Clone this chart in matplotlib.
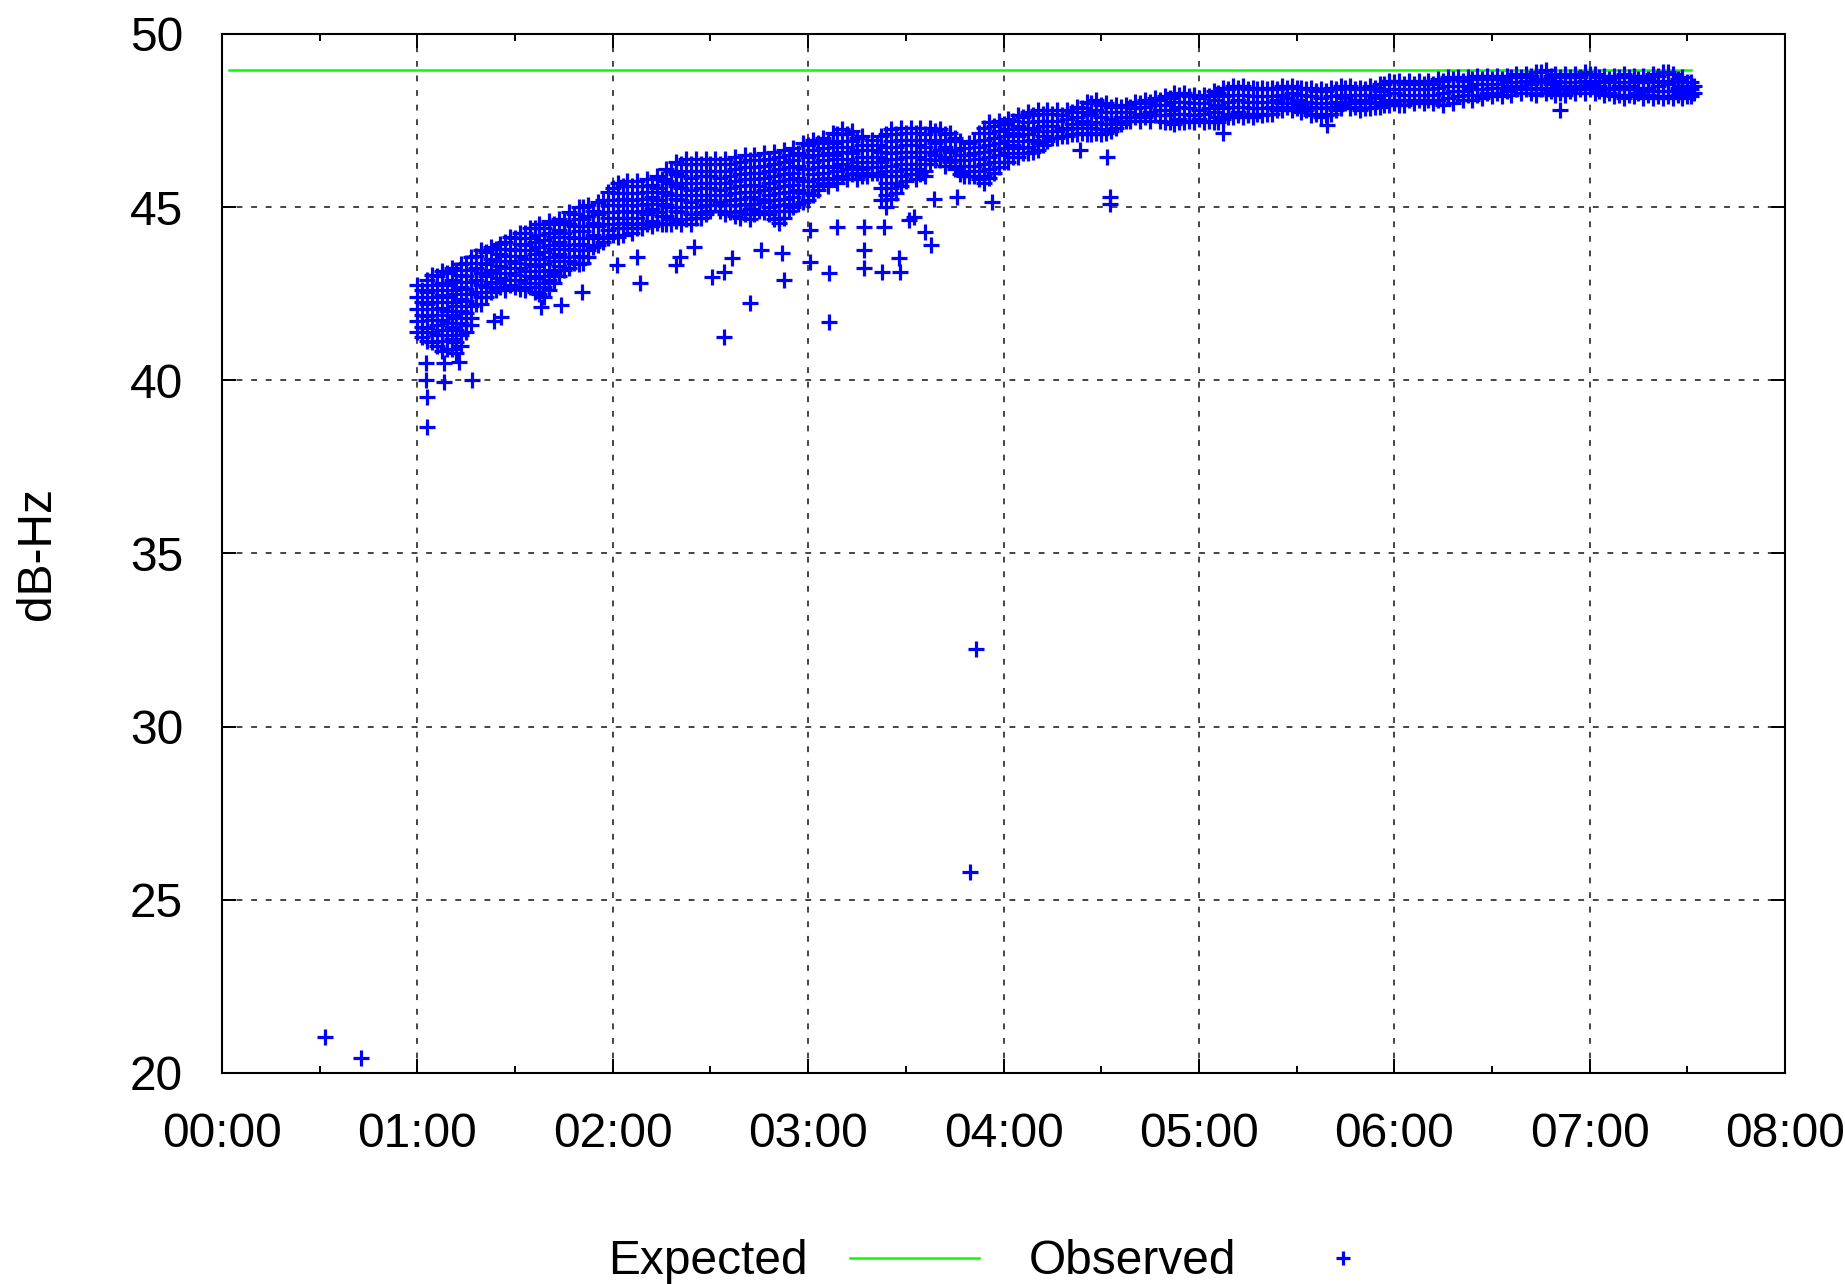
import matplotlib
matplotlib.use('Agg')
from matplotlib import pyplot as plt

# 期望值（绿色水平线）
expected_minutes = [2, 451]
expected_db = [48.95, 48.95]

# 观测值：按 3 分钟一列，从图上逐列读出
band_minutes = [60, 63, 66, 69, 72, 75, 78, 81, 84, 87, 90, 93, 96, 99, 102, 105, 108, 111, 114, 117,
                120, 123, 126, 129, 132, 135, 138, 141, 144, 147, 150, 153, 156, 159, 162, 165, 168, 171,
                174, 177, 180, 183, 186, 189, 192, 195, 198, 201, 204, 207, 210, 213, 216, 219, 222, 225,
                228, 231, 234, 237, 240, 243, 246, 249, 252, 255, 258, 261, 264, 267, 270, 273, 276, 279,
                282, 285, 288, 291, 294, 297, 300, 303, 306, 309, 312, 315, 318, 321, 324, 327, 330, 333,
                336, 339, 342, 345, 348, 351, 354, 357, 360, 363, 366, 369, 372, 375, 378, 381, 384, 387,
                390, 393, 396, 399, 402, 405, 408, 411, 414, 417, 420, 423, 426, 429, 432, 435, 438, 441,
                444, 447, 450, 452]
band_db = [
    [42.75, 42.4, 42.05, 41.7, 41.4],
    [42.9, 42.55, 42.2, 41.85, 41.5, 41.15],
    [43.0, 42.6, 42.25, 41.9, 41.6, 41.3, 41.0],
    [43.1, 42.75, 42.4, 42.0, 41.65, 41.3, 40.9],
    [43.2, 42.85, 42.5, 42.15, 41.8, 41.45, 41.1, 40.8],
    [43.4, 43.0, 42.65, 42.3, 41.95, 41.6, 41.4],
    [43.6, 43.25, 42.9, 42.55, 42.2],
    [43.7, 43.35, 43.0, 42.7, 42.4],
    [43.8, 43.45, 43.1, 42.8, 42.6],
    [44.0, 43.6, 43.25, 42.9, 42.6],
    [44.1, 43.75, 43.4, 43.05, 42.7],
    [44.25, 43.9, 43.5, 43.15, 42.8, 42.6],
    [44.4, 44.0, 43.65, 43.3, 42.95, 42.55],
    [44.4, 44.05, 43.7, 43.35, 43.0, 42.7, 42.4],
    [44.5, 44.15, 43.8, 43.45, 43.1, 42.8],
    [44.6, 44.25, 43.9, 43.55, 43.2],
    [44.8, 44.45, 44.1, 43.75, 43.4],
    [45.0, 44.65, 44.3, 43.9, 43.55, 43.4],
    [44.9, 44.55, 44.2, 43.85],
    [45.2, 44.85, 44.5, 44.15, 44.0],
    [45.55, 45.2, 44.85, 44.5, 44.2],
    [45.6, 45.25, 44.9, 44.55, 44.2],
    [45.6, 45.2, 44.85, 44.5, 44.25],
    [45.6, 45.25, 44.9, 44.55, 44.4],
    [45.65, 45.3, 44.95, 44.6, 44.45],
    [45.8, 45.45, 45.1, 44.75, 44.5],
    [46.05, 45.7, 45.35, 45.0, 44.65, 44.5],
    [46.25, 45.9, 45.55, 45.2, 44.85, 44.5],
    [46.25, 45.85, 45.5, 45.15, 44.8, 44.5],
    [46.25, 45.9, 45.55, 45.2, 44.85, 44.7],
    [46.25, 45.9, 45.55, 45.2, 44.9],
    [46.25, 45.85, 45.5, 45.15, 44.9],
    [46.25, 45.9, 45.55, 45.2, 44.85],
    [46.3, 45.95, 45.6, 45.25, 44.9, 44.7],
    [46.35, 46.0, 45.65, 45.3, 44.95, 44.65],
    [46.35, 46.0, 45.6, 45.25, 44.9],
    [46.4, 46.05, 45.7, 45.35, 45.0, 44.8],
    [46.45, 46.1, 45.75, 45.4, 45.05, 44.7, 44.55],
    [46.5, 46.15, 45.8, 45.45, 45.1, 44.9],
    [46.55, 46.2, 45.85, 45.5, 45.1],
    [46.8, 46.45, 46.1, 45.75, 45.4, 45.2],
    [46.85, 46.5, 46.15, 45.8, 45.5],
    [46.9, 46.55, 46.2, 45.85, 45.6],
    [47.1, 46.75, 46.4, 46.05, 45.7],
    [47.1, 46.75, 46.4, 46.1, 45.8],
    [47.0, 46.65, 46.3, 46.0, 45.8],
    [46.8, 46.45, 46.15, 45.9],
    [46.8, 46.45, 46.15, 46.0],
    [47.1, 46.75, 46.4, 46.05, 45.7, 45.35, 45.0],
    [47.1, 46.75, 46.4, 46.05, 45.7, 45.4],
    [47.15, 46.8, 46.45, 46.1, 45.75],
    [47.15, 46.8, 46.45, 46.1, 45.8],
    [47.1, 46.75, 46.4, 46.05, 45.9],
    [47.2, 46.85, 46.5, 46.35],
    [47.1, 46.75, 46.45, 46.2],
    [47.0, 46.65, 46.35, 46.1],
    [46.7, 46.35, 46.05, 45.9],
    [46.9, 46.55, 46.2, 45.9],
    [47.3, 46.95, 46.6, 46.25, 45.9, 45.7],
    [47.35, 47.0, 46.65, 46.3, 46.0],
    [47.4, 47.05, 46.7, 46.3],
    [47.5, 47.15, 46.8, 46.45],
    [47.6, 47.25, 46.9, 46.55],
    [47.65, 47.3, 46.95, 46.6],
    [47.7, 47.35, 47.05, 46.8],
    [47.7, 47.35, 47.0],
    [47.65, 47.3, 47.05],
    [47.75, 47.4, 47.1],
    [47.85, 47.5, 47.15],
    [48.0, 47.65, 47.3, 47.1],
    [47.95, 47.6, 47.25, 47.1],
    [47.9, 47.55, 47.2],
    [47.9, 47.6, 47.4],
    [47.9, 47.6, 47.5],
    [48.0, 47.7, 47.5],
    [48.05, 47.75, 47.5],
    [48.1, 47.8, 47.5],
    [48.15, 47.8, 47.45],
    [48.25, 47.9, 47.55, 47.45],
    [48.2, 47.85, 47.5],
    [48.15, 47.8, 47.55],
    [48.2, 47.85, 47.5],
    [48.3, 47.95, 47.6, 47.45],
    [48.4, 48.05, 47.7, 47.6],
    [48.45, 48.1, 47.75, 47.65],
    [48.4, 48.05, 47.7, 47.65],
    [48.4, 48.05, 47.7],
    [48.4, 48.05, 47.7],
    [48.4, 48.1, 47.8],
    [48.45, 48.15, 47.9],
    [48.45, 48.1, 47.85],
    [48.4, 48.05, 47.8],
    [48.35, 48.0, 47.7],
    [48.35, 48.0, 47.65],
    [48.4, 48.05, 47.8],
    [48.45, 48.15, 48.0],
    [48.4, 48.1, 47.9],
    [48.4, 48.1, 47.85],
    [48.45, 48.15, 47.9],
    [48.55, 48.25, 47.95],
    [48.6, 48.3, 48.0],
    [48.55, 48.25, 47.95],
    [48.55, 48.25, 48.0],
    [48.55, 48.25, 48.0],
    [48.55, 48.25, 48.0],
    [48.65, 48.3, 47.95],
    [48.7, 48.35, 48.0],
    [48.65, 48.35, 48.1],
    [48.7, 48.4, 48.1],
    [48.7, 48.4, 48.15],
    [48.7, 48.45, 48.2],
    [48.7, 48.45, 48.2],
    [48.75, 48.5, 48.25],
    [48.75, 48.5, 48.3],
    [48.8, 48.55, 48.3],
    [48.9, 48.6, 48.4],
    [48.8, 48.55, 48.35],
    [48.75, 48.5, 48.3],
    [48.75, 48.5, 48.35],
    [48.75, 48.5, 48.4],
    [48.85, 48.55, 48.4],
    [48.75, 48.5, 48.35],
    [48.7, 48.45, 48.3],
    [48.75, 48.5, 48.25],
    [48.75, 48.5, 48.25],
    [48.7, 48.45, 48.3],
    [48.7, 48.45, 48.25],
    [48.8, 48.5, 48.2],
    [48.9, 48.55, 48.2],
    [48.7, 48.45, 48.25],
    [48.6, 48.35, 48.2],
    [48.5, 48.3],
]

# 观测值：第二遍，落在上面各列之间的点
mid_minutes = [61.5, 64.5, 67.5, 70.5, 73.5, 76.5, 79.5, 82.5, 85.5, 88.5, 91.5, 94.5, 97.5, 100.5,
               103.5, 106.5, 109.5, 112.5, 115.5, 118.5, 121.5, 124.5, 127.5, 130.5, 133.5, 136.5,
               139.5, 142.5, 145.5, 148.5, 151.5, 154.5, 157.5, 160.5, 163.5, 166.5, 169.5, 172.5,
               175.5, 178.5, 181.5, 184.5, 187.5, 190.5, 193.5, 196.5, 199.5, 202.5, 205.5, 208.5,
               211.5, 214.5, 217.5, 220.5, 223.5, 226.5, 229.5, 232.5, 235.5, 238.5, 241.5, 244.5,
               247.5, 250.5, 253.5, 256.5, 259.5, 262.5, 265.5, 268.5, 271.5, 274.5, 277.5, 280.5,
               283.5, 286.5, 289.5, 292.5, 295.5, 298.5, 301.5, 304.5, 307.5, 310.5, 313.5, 316.5,
               319.5, 322.5, 325.5, 328.5, 331.5, 334.5, 337.5, 340.5, 343.5, 346.5, 349.5, 352.5,
               355.5, 358.5, 361.5, 364.5, 367.5, 370.5, 373.5, 376.5, 379.5, 382.5, 385.5, 388.5,
               391.5, 394.5, 397.5, 400.5, 403.5, 406.5, 409.5, 412.5, 415.5, 418.5, 421.5, 424.5,
               427.5, 430.5, 433.5, 436.5, 439.5, 442.5, 445.5, 448.5, 451]
mid_db = [
    [42.6, 42.25, 41.9, 41.55, 41.25],
    [43.05, 42.75, 42.4, 42.05, 41.75, 41.4, 41.1],
    [43.15, 42.8, 42.45, 42.1, 41.75, 41.45, 41.15, 40.85],
    [43.25, 42.9, 42.6, 42.25, 41.9, 41.55, 41.2, 40.9],
    [43.35, 43.05, 42.7, 42.35, 42.0, 41.65, 41.3, 41.0],
    [43.55, 43.2, 42.85, 42.5, 42.15, 41.8, 41.6],
    [43.75, 43.4, 43.1, 42.75, 42.4, 42.2],
    [43.85, 43.5, 43.2, 42.85, 42.55],
    [43.95, 43.65, 43.3, 42.95, 42.7],
    [44.15, 43.8, 43.45, 43.1, 42.75],
    [44.25, 43.95, 43.6, 43.25, 42.9, 42.65],
    [44.4, 44.1, 43.75, 43.35, 43.0, 42.7],
    [44.5, 44.2, 43.85, 43.5, 43.15, 42.8, 42.5],
    [44.6, 44.25, 43.9, 43.55, 43.2, 42.9, 42.6],
    [44.65, 44.35, 44.0, 43.65, 43.3, 43.0],
    [44.85, 44.5, 44.15, 43.8, 43.45, 43.25],
    [45.0, 44.65, 44.3, 43.95, 43.6, 43.35],
    [45.05, 44.75, 44.45, 44.1, 43.75, 43.55],
    [45.15, 44.8, 44.45, 44.1, 43.9],
    [45.45, 45.05, 44.7, 44.35, 44.1],
    [45.7, 45.4, 45.05, 44.7, 44.4, 44.15],
    [45.75, 45.4, 45.05, 44.7, 44.4],
    [45.75, 45.4, 45.05, 44.7, 44.4],
    [45.8, 45.45, 45.1, 44.8, 44.5],
    [45.9, 45.55, 45.2, 44.85, 44.55],
    [46.1, 45.75, 45.4, 45.05, 44.75, 44.5],
    [46.3, 45.95, 45.6, 45.25, 44.9, 44.6],
    [46.4, 46.05, 45.7, 45.35, 45.0, 44.65],
    [46.4, 46.05, 45.7, 45.35, 45.0, 44.7],
    [46.4, 46.05, 45.7, 45.35, 45.05, 44.8],
    [46.4, 46.05, 45.7, 45.35, 45.05],
    [46.4, 46.05, 45.7, 45.35, 45.05, 44.8],
    [46.45, 46.1, 45.75, 45.4, 45.05, 44.75],
    [46.5, 46.15, 45.8, 45.45, 45.1, 44.8],
    [46.5, 46.15, 45.8, 45.45, 45.1, 44.8],
    [46.55, 46.2, 45.85, 45.5, 45.15, 44.85],
    [46.6, 46.25, 45.9, 45.55, 45.2, 44.9, 44.65],
    [46.65, 46.3, 45.95, 45.6, 45.25, 44.9, 44.7],
    [46.7, 46.35, 46.0, 45.65, 45.3, 45.0],
    [46.85, 46.5, 46.1, 45.75, 45.4, 45.15],
    [46.95, 46.65, 46.3, 45.95, 45.6, 45.35],
    [47.0, 46.7, 46.35, 46.0, 45.7],
    [47.15, 46.85, 46.5, 46.15, 45.8],
    [47.25, 46.9, 46.6, 46.25, 45.9],
    [47.2, 46.9, 46.55, 46.2, 45.95],
    [47.05, 46.8, 46.45, 46.1, 45.9],
    [46.95, 46.65, 46.3, 46.0],
    [47.05, 46.6, 46.3, 45.9, 45.55, 45.2],
    [47.25, 46.9, 46.55, 46.2, 45.9, 45.55, 45.25],
    [47.3, 46.95, 46.6, 46.25, 45.9, 45.6],
    [47.3, 46.95, 46.6, 46.25, 45.95],
    [47.3, 46.95, 46.6, 46.25, 45.95],
    [47.3, 46.95, 46.6, 46.25],
    [47.25, 46.95, 46.65, 46.35],
    [47.15, 46.9, 46.6, 46.3],
    [46.9, 46.5, 46.2, 45.95],
    [46.85, 46.5, 46.2, 45.9],
    [47.15, 46.75, 46.4, 46.05, 45.8],
    [47.45, 47.15, 46.8, 46.45, 46.1, 45.85],
    [47.5, 47.2, 46.85, 46.5, 46.15],
    [47.55, 47.25, 46.9, 46.55, 46.3],
    [47.65, 47.35, 47.05, 46.7, 46.45],
    [47.75, 47.45, 47.1, 46.75, 46.55],
    [47.8, 47.5, 47.2, 46.85, 46.65],
    [47.8, 47.5, 47.2, 46.9],
    [47.8, 47.5, 47.2, 47.0],
    [47.8, 47.55, 47.25, 47.05],
    [47.9, 47.6, 47.3, 47.1],
    [48.05, 47.75, 47.4, 47.1],
    [48.1, 47.8, 47.45, 47.15],
    [48.0, 47.75, 47.4, 47.15],
    [47.95, 47.75, 47.45, 47.3],
    [47.95, 47.75, 47.5],
    [48.05, 47.85, 47.6],
    [48.1, 47.9, 47.6],
    [48.15, 47.95, 47.65],
    [48.2, 47.95, 47.65, 47.45],
    [48.3, 48.05, 47.7, 47.4],
    [48.3, 48.05, 47.7, 47.45],
    [48.25, 48.0, 47.65, 47.45],
    [48.25, 48.0, 47.7, 47.45],
    [48.35, 48.1, 47.75, 47.45],
    [48.45, 48.2, 47.85, 47.55],
    [48.5, 48.25, 47.9, 47.6],
    [48.5, 48.25, 47.9, 47.6],
    [48.45, 48.2, 47.85, 47.6],
    [48.45, 48.2, 47.85, 47.65],
    [48.45, 48.2, 47.9, 47.7],
    [48.5, 48.25, 48.0, 47.8],
    [48.5, 48.3, 48.0, 47.8],
    [48.45, 48.25, 47.95, 47.75],
    [48.45, 48.2, 47.9, 47.65],
    [48.4, 48.15, 47.85, 47.6],
    [48.45, 48.2, 47.9, 47.7],
    [48.5, 48.25, 47.95, 47.85],
    [48.5, 48.25, 48.05, 47.85],
    [48.45, 48.25, 48.0, 47.8],
    [48.5, 48.25, 48.0, 47.85],
    [48.55, 48.35, 48.05, 47.9],
    [48.65, 48.4, 48.1, 47.95],
    [48.65, 48.4, 48.1, 47.95],
    [48.65, 48.4, 48.1],
    [48.65, 48.4, 48.1],
    [48.65, 48.4, 48.1],
    [48.7, 48.45, 48.1],
    [48.75, 48.5, 48.15],
    [48.75, 48.5, 48.2],
    [48.75, 48.5, 48.25],
    [48.8, 48.55, 48.25],
    [48.8, 48.55, 48.3],
    [48.8, 48.55, 48.3],
    [48.8, 48.6, 48.35],
    [48.85, 48.6, 48.4],
    [48.85, 48.65, 48.4],
    [48.9, 48.7, 48.45, 48.25],
    [48.95, 48.7, 48.45, 48.3],
    [48.85, 48.65, 48.4, 48.25],
    [48.85, 48.6, 48.4, 48.25],
    [48.85, 48.6, 48.45, 48.3],
    [48.9, 48.65, 48.5, 48.3],
    [48.85, 48.65, 48.45, 48.3],
    [48.8, 48.6, 48.4, 48.25],
    [48.8, 48.6, 48.4, 48.2],
    [48.85, 48.6, 48.4, 48.15],
    [48.8, 48.6, 48.4, 48.2],
    [48.8, 48.6, 48.35, 48.15],
    [48.85, 48.6, 48.35, 48.15],
    [48.9, 48.65, 48.35, 48.15],
    [48.85, 48.6, 48.35, 48.15],
    [48.75, 48.5, 48.3, 48.15],
    [48.6, 48.4, 48.2],
]

# 离群点（分钟, dB-Hz）
outlier_minutes = [31.6, 42.6, 62.6, 62.6, 63.1, 63.1, 68.2, 76.9, 72.8, 68.2, 83.5, 85.6, 97.9, 104.0,
                   110.6, 121.4, 127.5, 128.3, 139.3, 140.8, 145.0, 150.5, 154.1, 154.1, 156.7, 162.3,
                   165.4, 172.0, 172.5, 180.7, 180.7, 186.3, 186.3, 188.9, 197.1, 197.1, 197.1, 202.7,
                   203.2, 207.8, 208.3, 210.9, 212.4, 216.0, 217.6, 218.6, 225.7, 229.6, 231.6, 236.5,
                   263.5, 271.8, 272.8, 272.8, 307.5, 339.3, 410.9]
outlier_db = [21.05, 20.44, 40.49, 40.0, 39.53, 38.66, 39.94, 40.0, 40.54, 40.49, 41.7, 41.84, 42.13, 42.17,
              42.56, 43.33, 43.57, 42.80, 43.33, 43.57, 43.86, 42.99, 43.14, 41.26, 43.52, 42.22,
              43.76, 43.67, 42.9, 44.34, 43.43, 43.09, 41.69, 44.44, 43.76, 43.23, 44.44, 43.14,
              44.44, 43.52, 43.14, 44.63, 44.73, 44.29, 43.91, 45.25, 45.30, 25.81, 32.23, 45.16,
              46.65, 46.46, 45.3, 45.1, 47.13, 47.37, 47.8]

x_ticks = [0, 60, 120, 180, 240, 300, 360, 420, 480]
x_tick_labels = ['00:00', '01:00', '02:00', '03:00', '04:00', '05:00', '06:00', '07:00', '08:00']
y_ticks = [20, 25, 30, 35, 40, 45, 50]

assert len(band_minutes) == len(band_db) and len(mid_minutes) == len(mid_db)

plt.rcParams['font.family'] = ['Liberation Sans', 'DejaVu Sans']
plt.rcParams['font.size'] = 34.5

obs_x = [m for m, col in zip(band_minutes, band_db) for _ in col]
obs_x += [m for m, col in zip(mid_minutes, mid_db) for _ in col]
obs_x += outlier_minutes
obs_y = [v for col in band_db for v in col] + [v for col in mid_db for v in col] + outlier_db

fig = plt.figure(figsize=(18.45, 12.84), dpi=100)
ax = fig.add_axes([222 / 1845, 1 - 1073 / 1284, (1785 - 222) / 1845, (1073 - 34) / 1284])

ax.plot(expected_minutes, expected_db, color='#00ff00', lw=1.8, label='Expected', zorder=2)
ax.plot(obs_x, obs_y, linestyle='none', marker='+', color='#0000ff',
        markersize=12, markeredgewidth=2.3, label='Observed', zorder=3)

ax.set_xlim(0, 480)
ax.set_ylim(20, 50)
ax.set_xticks(x_ticks)
ax.set_xticklabels(x_tick_labels)
ax.set_xticks(range(30, 480, 60), minor=True)
ax.set_yticks(y_ticks)

ax.grid(True, which='major', color='#444444', linestyle=(0, (3, 4.5)), linewidth=1.4)
ax.tick_params(which='both', direction='in', top=True, right=True, width=1.4, color='black')
ax.tick_params(which='major', length=10, pad=28)
ax.tick_params(which='minor', length=5)
for s in ax.spines.values():
    s.set_linewidth(1.5)

fig.text(38 / 1845, 1 - 553 / 1284, 'dB-Hz', rotation=90, ha='center', va='center')

fig.legend(loc='center', bbox_to_anchor=(1008 / 1845, 1 - 1262 / 1284), ncol=2, frameon=False,
           markerfirst=False, handlelength=2.7, handletextpad=0.87, columnspacing=1.05,
           markerscale=0.8)

plt.savefig('out.png', dpi=100)
